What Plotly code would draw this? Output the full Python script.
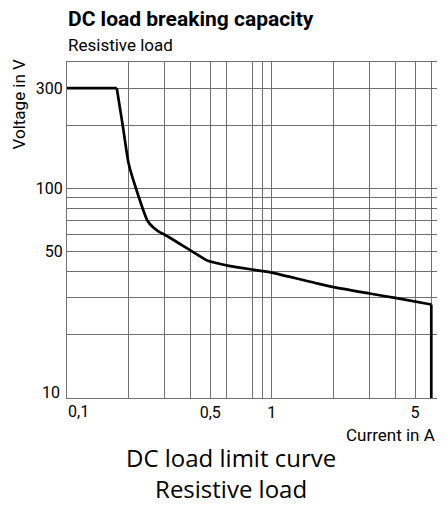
"""DC load breaking capacity – resistive load limit curve (Plotly)."""

import plotly.graph_objects as go

# ── Data ──────────────────────────────────────────────────────────────────────
current_a = [0.1, 0.175, 0.187, 0.2, 0.217, 0.247, 0.264, 0.283, 0.3, 0.408,
             0.487, 0.6, 0.71, 0.9, 1.0, 1.68, 2.0, 3.0, 4.0, 6.0, 6.0]
voltage_v = [300, 300, 200, 131, 100, 70, 65, 61.8, 60, 50,
             45.1, 42.9, 41.7, 40.3, 39.6, 35.1, 33.8, 31.5, 30, 27.9, 10]

x_grid = [0.1, 0.2, 0.3, 0.4, 0.5, 0.6, 0.8, 0.9, 1, 2, 3, 4, 5, 6]
x_labels = ["", "", "", "", "0,5", "", "", "", "1", "", "", "", "5", ""]
y_grid = [10, 20, 30, 40, 50, 60, 70, 80, 90, 100, 200, 300]
y_labels = ["", "", "", "", "50", "", "", "", "", "100", "", "300"]

# ── Style ─────────────────────────────────────────────────────────────────────
NARROW = "Roboto, Liberation Sans, sans-serif"
PLAIN = "Open Sans, Noto Sans, sans-serif"
GRID = "#707070"

# the page body adds 8px around the figure and clips it at its own width
W, H = 429, 499
L, R, T, B = 59, 0, 54, 109
PLOT_L, PLOT_B, PLOT_W, PLOT_H = 67, 398, 370, 336  # in window pixels


def _px(x, y):
    """Window pixel position -> paper coordinates."""
    return (x - PLOT_L) / PLOT_W, (PLOT_B - y) / PLOT_H


fig = go.Figure()
segments = [(0, 2, "linear"), (1, 20, "spline"), (19, 21, "linear")]
for start, stop, shape in segments:
    fig.add_trace(
        go.Scatter(
            x=current_a[start:stop],
            y=voltage_v[start:stop],
            mode="lines",
            line={"color": "black", "width": 2.7, "shape": shape, "smoothing": 0.6},
            showlegend=False,
            hoverinfo="skip",
        )
    )

axis_common = dict(
    type="log",
    showgrid=True,
    gridcolor=GRID,
    gridwidth=1,
    showline=True,
    linecolor=GRID,
    linewidth=1,
    ticks="",
    zeroline=False,
    tickfont={"family": NARROW, "size": 16, "color": "black"},
)
fig.update_xaxes(range=[-1, 0.806], tickvals=x_grid, ticktext=x_labels, mirror=True, **axis_common)
fig.update_yaxes(range=[1, 2.602], tickvals=y_grid, ticktext=y_labels, **axis_common)

annotations = []


def _note(text, x, y, xanchor="center", yanchor="middle", font=NARROW, size=17, **kw):
    px, py = _px(x, y)
    annotations.append(
        {
            "text": text,
            "x": px,
            "y": py,
            "xref": "paper",
            "yref": "paper",
            "xanchor": xanchor,
            "yanchor": yanchor,
            "showarrow": False,
            "font": {"family": font, "size": size, "color": "black"},
            **kw,
        }
    )


_note("<b>DC load breaking capacity</b>", 66, 19, xanchor="left", size=21)
_note("Resistive load", 66, 45, xanchor="left", size=17)
_note("Voltage in V", 18, 57, yanchor="top", size=17, textangle=-90)
_note("Current in A", 437, 435, xanchor="right")
_note("0,1", 66, 411, xanchor="left", size=16)
_note("10", 62, 392, xanchor="right", size=16)
_note("DC load limit curve<br>Resistive load", 230.5, 473, font=PLAIN, size=24)

fig.update_layout(
    width=W,
    height=H,
    margin={"l": L, "r": R, "t": T, "b": B},
    plot_bgcolor="white",
    paper_bgcolor="white",
    annotations=annotations,
)

fig.write_html("out.html")
